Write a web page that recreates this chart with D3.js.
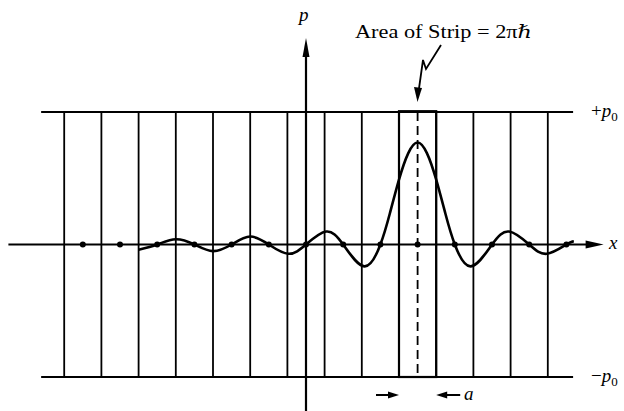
<!DOCTYPE html>
<html>
<head>
<meta charset="utf-8">
<script src="https://cdn.jsdelivr.net/npm/d3@7"></script>
<style>
  body { margin: 0; background: #fff; }
  text { font-family: "Liberation Serif", "DejaVu Serif", serif; fill: #000; }
</style>
</head>
<body>
<script>
var width = 624, height = 411

// strip boundaries (in units of a, origin on the p axis)
var stripEdges = [-6.5, -5.5, -4.5, -3.5, -2.5, -1.5, -0.5, 0.5, 1.5, 2.5, 3.5, 4.5, 5.5, 6.5]
// strip centres where the wave crosses zero
var dotsX = [-6, -5, -4, -3, -2, -1, 0, 1, 2, 4, 5, 6, 7, 3]
var highlight = 3

// wave (p in units of p0)
var waveX = [-4.5, -4, -3.5, -3, -2.5, -2, -1.5, -1, -0.47, 0, 0.54, 1, 1.57, 2, 2.25, 2.5, 2.75, 3, 3.25, 3.5, 3.75, 4, 4.43, 5, 5.46, 6, 6.47, 7, 7.2]
var waveP = [-0.04, 0, 0.04, 0, -0.05, 0, 0.06, 0, -0.07, 0, 0.098, 0, -0.165, 0, 0.23, 0.49, 0.69, 0.77, 0.69, 0.49, 0.23, 0, -0.165, 0, 0.098, 0, -0.07, 0, 0.025]

var x = d3.scaleLinear().domain([-8, 8]).range([8.4, 603.6])
var y = d3.scaleLinear().domain([-1, 1]).range([377, 112])

var svg = d3.select("body").append("svg")
    .attr("width", width)
    .attr("height", height)

// +p0 / -p0 lines
svg.selectAll(".pline")
    .data([1, -1])
  .enter().append("line")
    .attr("x1", x(-7.12)).attr("x2", x(7.18))
    .attr("y1", y).attr("y2", y)
    .attr("stroke", "#000").attr("stroke-width", 1.8)

// vertical strip lines
svg.selectAll(".vline")
    .data(stripEdges)
  .enter().append("line")
    .attr("x1", x).attr("x2", x)
    .attr("y1", y(1)).attr("y2", y(-1))
    .attr("stroke", "#000").attr("stroke-width", 1.8)

// highlighted strip
svg.append("rect")
    .attr("x", x(highlight - 0.5)).attr("y", y(1) - 0.8)
    .attr("width", x(highlight + 0.5) - x(highlight - 0.5))
    .attr("height", y(-1) - y(1) + 0.8)
    .attr("fill", "none").attr("stroke", "#000").attr("stroke-width", 2.2)

svg.append("line")
    .attr("x1", x(highlight)).attr("x2", x(highlight))
    .attr("y1", y(1)).attr("y2", y(-1))
    .attr("stroke", "#000").attr("stroke-width", 1.8)
    .attr("stroke-dasharray", "9,5")

// axes
svg.append("line")
    .attr("x1", x(-8)).attr("x2", x(7.6))
    .attr("y1", y(0)).attr("y2", y(0))
    .attr("stroke", "#000").attr("stroke-width", 2.2)
svg.append("path")
    .attr("d", "M" + x(8) + "," + y(0) + "L" + (x(8) - 18) + "," + (y(0) - 4) + "L" + (x(8) - 18) + "," + (y(0) + 4) + "Z")

svg.append("line")
    .attr("x1", x(0)).attr("x2", x(0))
    .attr("y1", height).attr("y2", 50)
    .attr("stroke", "#000").attr("stroke-width", 2.2)
svg.append("path")
    .attr("d", "M" + x(0) + ",38L" + (x(0) - 3.5) + ",57L" + (x(0) + 3.5) + ",57Z")

// wave
var line = d3.line()
    .x(function(d) { return x(d[0]) })
    .y(function(d) { return y(d[1]) })
    .curve(d3.curveNatural)

svg.append("path")
    .datum(waveX.map(function(v, i) { return [v, waveP[i]] }))
    .attr("d", line)
    .attr("fill", "none").attr("stroke", "#000").attr("stroke-width", 2.6)

// dots on the axis
svg.selectAll(".dot")
    .data(dotsX)
  .enter().append("circle")
    .attr("cx", x).attr("cy", y(0)).attr("r", 3)

// width arrows under the strip
var ay = 395
svg.append("line").attr("x1", x(highlight - 0.5) - 23).attr("x2", x(highlight - 0.5) - 6)
    .attr("y1", ay).attr("y2", ay).attr("stroke", "#000").attr("stroke-width", 2)
svg.append("path")
    .attr("d", "M" + x(highlight - 0.5) + "," + ay + "l-11,-3.5l0,7Z")
svg.append("line").attr("x1", x(highlight + 0.5) + 6).attr("x2", x(highlight + 0.5) + 24)
    .attr("y1", ay).attr("y2", ay).attr("stroke", "#000").attr("stroke-width", 2)
svg.append("path")
    .attr("d", "M" + x(highlight + 0.5) + "," + ay + "l11,-3.5l0,7Z")

// labels
svg.append("text").attr("x", 464).attr("y", 400)
    .style("font-style", "italic").style("font-size", "19px").text("a")
svg.append("text").attr("x", 609).attr("y", 249)
    .style("font-style", "italic").style("font-size", "19px").text("x")
svg.append("text").attr("x", 299).attr("y", 21)
    .style("font-style", "italic").style("font-size", "19px").text("p")

var pl = svg.append("text").attr("x", 591).attr("y", 117).style("font-size", "19px")
pl.append("tspan").text("+")
pl.append("tspan").style("font-style", "italic").text("p")
pl.append("tspan").attr("dy", 4).style("font-size", "13px").text("0")

var ml = svg.append("text").attr("x", 591).attr("y", 382).style("font-size", "19px")
ml.append("tspan").text("\u2212")
ml.append("tspan").style("font-style", "italic").text("p")
ml.append("tspan").attr("dy", 4).style("font-size", "13px").text("0")

svg.append("text").attr("x", 355).attr("y", 38)
    .style("font-size", "18px")
    .attr("textLength", 177)
    .attr("lengthAdjust", "spacingAndGlyphs")
    .text("Area of Strip = 2\u03c0\u210f")

// squiggly pointer
svg.append("path")
    .attr("d", "M441,45L426,69L423,60L418.5,92")
    .attr("fill", "none").attr("stroke", "#000").attr("stroke-width", 1.8)
svg.append("path")
    .attr("d", "M417.5,102L414,87L422,88Z")
</script>
</body>
</html>
